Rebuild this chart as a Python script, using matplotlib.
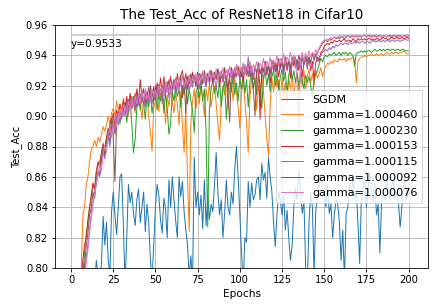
import numpy as np
import matplotlib
matplotlib.use("Agg")
import matplotlib.pyplot as plt

epochs = list(range(1, 201))

sgdm = [60.0, 65.0, 68.0, 70.5, 72.0, 73.5, 74.5, 75.5, 76.0, 76.8,
        77.5, 78.0, 78.4, 79.0, 80.5, 79.5, 78.8, 80.2, 83.4, 81.5,
        83.0, 80.6, 79.5, 83.7, 85.0, 83.5, 82.2, 84.0, 86.0, 86.2,
        82.8, 79.0, 82.0, 85.5, 84.3, 85.0, 83.6, 82.8, 84.5, 85.2,
        83.0, 84.0, 85.0, 82.4, 84.2, 83.0, 80.6, 79.2, 81.5, 84.0,
        85.5, 84.8, 83.2, 82.3, 84.6, 83.8, 82.0, 85.8, 84.0, 86.0,
        84.5, 83.1, 82.0, 86.0, 84.7, 85.7, 83.7, 82.5, 81.5, 79.5,
        80.8, 79.0, 87.3, 84.0, 85.0, 83.5, 84.8, 82.6, 85.8, 82.8,
        84.8, 83.2, 84.2, 83.7, 85.5, 87.6, 85.0, 83.5, 84.5, 82.0,
        83.6, 85.8, 84.0, 83.5, 85.0, 84.2, 86.5, 88.0, 86.0, 83.6,
        81.0, 79.0, 82.0, 81.7, 85.7, 84.0, 85.6, 84.5, 84.8, 85.8,
        86.0, 84.5, 86.9, 85.8, 86.3, 84.6, 87.3, 86.0, 85.0, 83.0,
        81.4, 83.5, 85.0, 84.5, 83.5, 84.8, 82.5, 83.8, 82.0, 80.5,
        81.5, 84.0, 85.3, 84.5, 86.5, 85.0, 83.6, 84.4, 80.1, 79.0,
        83.0, 85.0, 84.0, 79.5, 83.8, 84.6, 85.5, 86.2, 84.7, 85.0,
        84.0, 85.5, 83.6, 84.2, 82.0, 83.5, 84.5, 84.2, 83.0, 80.5,
        82.5, 79.3, 83.6, 84.0, 85.5, 84.8, 86.0, 84.6, 85.0, 83.0,
        80.3, 84.5, 85.2, 86.0, 84.0, 85.4, 86.3, 85.0, 84.4, 85.6,
        83.5, 84.2, 81.0, 84.3, 85.0, 84.5, 86.2, 85.0, 84.4, 85.4,
        85.8, 84.6, 85.0, 84.3, 82.7, 84.0, 85.5, 86.0, 84.5, 85.3]

g460 = [60.0, 68.0, 72.0, 76.0, 78.5, 79.5, 83.5, 84.0, 85.5, 86.0,
        87.0, 87.8, 88.0, 88.4, 88.0, 88.6, 88.3, 88.8, 89.3, 89.0,
        89.4, 90.0, 89.5, 90.2, 90.5, 90.0, 91.0, 90.4, 90.8, 90.2,
        91.2, 90.6, 91.0, 90.0, 91.3, 90.5, 91.0, 90.2, 91.5, 90.8,
        91.0, 89.8, 91.2, 90.6, 91.4, 90.0, 89.0, 87.7, 90.5, 91.0,
        91.5, 90.3, 91.6, 90.8, 91.2, 89.5, 91.4, 90.6, 91.8, 91.0,
        90.2, 91.5, 90.8, 89.4, 91.6, 89.4, 87.6, 90.5, 86.0, 82.4,
        89.5, 91.0, 91.8, 90.5, 91.6, 90.8, 92.0, 91.2, 90.0, 91.8,
        91.0, 92.2, 90.6, 91.5, 92.0, 90.8, 89.5, 88.4, 91.0, 92.0,
        91.4, 92.3, 90.5, 91.8, 92.2, 91.0, 92.5, 91.6, 90.6, 89.2,
        91.5, 92.4, 91.0, 89.5, 87.6, 91.2, 92.5, 91.8, 92.6, 90.4,
        92.0, 91.2, 92.8, 91.6, 90.0, 88.5, 87.4, 90.8, 92.5, 91.6,
        92.8, 91.9, 92.4, 91.0, 92.6, 91.4, 92.2, 90.8, 92.5, 91.8,
        92.7, 91.2, 92.4, 92.9, 91.5, 92.6, 92.0, 93.0, 91.8, 92.6,
        93.1, 92.2, 92.8, 92.0, 93.0, 92.5, 92.8, 93.2, 92.6, 93.0,
        93.3, 93.5, 93.4, 93.6, 93.5, 93.7, 93.6, 93.6, 93.8, 93.7,
        93.7, 93.8, 93.6, 93.8, 93.7, 93.8, 93.9, 93.7, 92.2, 93.6,
        93.8, 93.9, 93.9, 94.0, 93.9, 94.0, 94.0, 94.1, 94.0, 94.0,
        94.1, 94.0, 94.1, 94.1, 94.0, 94.1, 94.2, 94.1, 94.1, 94.2,
        94.1, 94.2, 94.2, 94.1, 94.2, 94.2, 94.3, 94.2, 94.1, 94.1]

g230 = [58.0, 66.0, 71.0, 74.0, 76.5, 78.0, 79.5, 81.0, 82.2, 83.0,
        84.0, 84.6, 85.5, 85.2, 86.3, 86.8, 87.0, 87.5, 88.0, 87.6,
        88.5, 88.9, 88.3, 89.3, 89.8, 88.8, 89.9, 90.3, 89.5, 90.5,
        90.0, 90.8, 89.6, 90.6, 91.0, 89.5, 87.6, 88.5, 90.6, 91.2,
        90.4, 91.3, 90.8, 89.8, 91.4, 90.6, 91.5, 90.2, 91.0, 91.6,
        90.4, 91.4, 91.0, 91.8, 90.2, 91.5, 90.5, 88.8, 89.5, 91.6,
        91.0, 92.0, 91.3, 91.8, 90.6, 92.0, 91.4, 92.2, 90.8, 91.8,
        91.0, 90.4, 88.9, 91.5, 92.0, 91.2, 92.2, 91.0, 91.8, 89.0,
        82.7, 90.5, 91.8, 92.4, 91.5, 92.0, 91.2, 92.5, 90.6, 91.8,
        92.3, 89.8, 91.5, 92.4, 91.6, 92.6, 91.4, 92.2, 91.0, 92.5,
        91.8, 92.8, 91.5, 92.4, 90.6, 92.3, 92.9, 91.8, 92.5, 91.4,
        92.8, 92.0, 90.5, 92.4, 93.0, 92.0, 92.8, 91.6, 92.6, 93.0,
        92.0, 92.8, 91.7, 92.6, 93.1, 92.3, 92.9, 91.5, 92.7, 93.2,
        92.4, 93.0, 92.2, 92.8, 92.0, 92.9, 92.4, 91.8, 92.7, 92.2,
        92.6, 92.0, 91.3, 92.4, 92.8, 93.0, 93.4, 93.8, 93.6, 93.9,
        94.0, 93.9, 94.1, 94.0, 94.1, 94.2, 94.0, 94.1, 94.2, 94.0,
        94.2, 94.1, 94.2, 94.0, 94.2, 94.1, 94.0, 93.3, 94.1, 94.2,
        94.2, 94.3, 94.2, 94.3, 94.2, 94.3, 94.3, 94.2, 94.3, 94.4,
        94.3, 94.3, 94.4, 94.3, 94.4, 94.3, 94.4, 94.4, 94.3, 94.4,
        94.4, 94.3, 94.4, 94.4, 94.3, 94.4, 94.4, 94.3, 94.3, 94.3]

g153 = [55.0, 64.0, 70.0, 74.0, 77.0, 78.8, 80.5, 81.5, 82.0, 83.2,
        84.0, 84.8, 85.6, 85.2, 86.4, 87.0, 86.6, 87.6, 88.2, 87.8,
        88.6, 89.2, 88.7, 89.6, 90.2, 89.4, 90.4, 90.0, 90.8, 90.3,
        91.0, 90.4, 91.3, 90.6, 91.5, 90.8, 91.2, 90.5, 91.8, 91.0,
        92.4, 91.2, 91.8, 90.8, 91.6, 91.0, 92.0, 91.3, 91.9, 91.1,
        92.2, 91.4, 92.5, 91.6, 92.6, 91.5, 92.2, 91.7, 92.6, 91.8,
        92.4, 91.6, 92.8, 92.0, 92.6, 93.0, 92.2, 92.8, 91.8, 92.7,
        92.0, 92.9, 92.3, 92.6, 91.8, 92.8, 92.1, 92.9, 92.4, 92.0,
        92.8, 92.3, 93.0, 92.2, 92.9, 92.4, 93.1, 92.0, 92.7, 92.3,
        93.0, 92.5, 91.8, 92.8, 93.2, 92.4, 93.0, 92.6, 93.3, 92.5,
        93.0, 92.2, 93.2, 92.7, 93.4, 92.6, 93.1, 92.4, 93.3, 92.8,
        93.5, 89.8, 93.2, 92.9, 93.6, 92.7, 93.4, 92.2, 93.2, 93.6,
        92.9, 93.5, 92.6, 93.3, 93.8, 92.9, 93.6, 93.0, 93.7, 92.5,
        93.4, 93.9, 93.2, 93.7, 93.0, 93.8, 92.6, 93.5, 94.0, 93.3,
        93.8, 93.0, 93.6, 92.4, 93.5, 93.9, 93.6, 94.2, 94.3, 94.6,
        94.7, 94.8, 94.7, 94.9, 94.8, 95.0, 94.9, 94.9, 95.0, 94.9,
        95.0, 95.1, 94.9, 95.0, 95.0, 94.9, 95.1, 95.0, 94.9, 95.1,
        95.0, 95.1, 95.0, 95.1, 95.0, 95.1, 95.1, 95.0, 95.1, 95.0,
        95.1, 95.1, 95.0, 95.1, 95.2, 95.1, 95.1, 95.0, 95.1, 95.2,
        95.1, 95.1, 95.2, 95.1, 95.1, 95.2, 95.1, 95.1, 95.2, 95.1]

g115 = [50.0, 60.0, 66.0, 70.0, 73.5, 76.0, 78.0, 79.8, 80.6, 81.5,
        82.5, 83.6, 84.2, 85.0, 85.5, 86.3, 86.0, 87.0, 87.6, 87.2,
        88.2, 88.6, 88.0, 89.0, 89.6, 88.9, 90.0, 89.4, 90.3, 89.8,
        90.6, 90.0, 90.9, 90.2, 91.0, 90.5, 91.3, 90.4, 91.4, 90.7,
        91.5, 90.9, 91.2, 90.6, 91.6, 91.0, 91.8, 90.8, 91.5, 91.2,
        92.0, 91.3, 91.8, 91.0, 92.1, 91.4, 92.3, 91.2, 92.0, 91.6,
        92.4, 91.5, 92.2, 91.8, 92.5, 91.7, 92.3, 92.0, 92.6, 91.6,
        92.4, 91.9, 92.7, 92.0, 92.5, 91.8, 92.8, 92.2, 92.6, 91.9,
        92.7, 92.1, 92.9, 92.3, 92.5, 91.8, 92.8, 92.4, 93.0, 92.2,
        92.8, 92.0, 93.1, 92.5, 92.9, 92.3, 93.2, 92.6, 93.0, 92.4,
        93.2, 92.6, 93.4, 92.8, 93.9, 92.7, 93.3, 92.5, 93.1, 92.9,
        93.4, 92.8, 93.0, 92.4, 93.5, 92.9, 93.2, 92.6, 93.6, 93.0,
        93.4, 92.8, 93.7, 93.1, 93.5, 92.7, 93.8, 93.2, 93.4, 93.0,
        93.7, 93.3, 93.9, 93.0, 93.6, 93.2, 94.0, 93.4, 93.8, 93.1,
        93.9, 93.5, 93.2, 93.7, 94.1, 93.6, 93.9, 94.0, 94.2, 94.3,
        94.4, 94.3, 94.5, 94.4, 94.6, 94.5, 94.7, 94.6, 94.7, 94.8,
        94.7, 94.8, 94.8, 94.7, 94.9, 94.8, 94.8, 94.9, 94.8, 94.9,
        94.8, 94.9, 94.9, 94.8, 94.9, 94.9, 94.8, 94.9, 95.0, 94.9,
        94.9, 95.0, 94.9, 94.9, 95.0, 94.9, 95.0, 95.0, 94.9, 95.0,
        95.0, 94.9, 95.0, 95.0, 94.9, 95.0, 95.0, 95.1, 95.0, 95.0]

g092 = [52.0, 62.0, 68.0, 72.0, 75.0, 77.0, 79.0, 80.2, 81.4, 82.3,
        83.5, 84.0, 85.0, 84.6, 85.8, 86.4, 86.2, 87.2, 87.8, 87.4,
        88.4, 88.8, 89.4, 89.9, 88.6, 85.7, 89.6, 90.2, 89.7, 90.5,
        90.1, 90.9, 90.3, 91.1, 90.6, 91.3, 90.8, 91.5, 90.6, 91.4,
        91.0, 91.7, 90.9, 91.5, 91.1, 91.9, 91.2, 91.7, 91.0, 92.0,
        91.4, 92.1, 91.5, 91.9, 91.3, 92.2, 91.6, 92.4, 91.7, 92.1,
        91.8, 92.5, 91.9, 92.3, 92.7, 91.2, 92.4, 90.2, 92.6, 92.1,
        92.8, 92.2, 92.5, 92.0, 92.9, 92.4, 92.7, 92.1, 93.0, 92.3,
        92.8, 92.4, 93.0, 92.2, 92.9, 92.5, 93.1, 92.4, 92.8, 92.6,
        93.2, 92.5, 91.5, 89.6, 92.8, 93.0, 92.5, 93.3, 92.7, 93.1,
        92.6, 93.4, 92.8, 93.2, 92.6, 93.5, 92.9, 91.8, 90.0, 92.9,
        93.5, 92.8, 93.3, 92.9, 93.6, 93.0, 93.4, 92.8, 93.7, 93.1,
        93.5, 93.0, 93.8, 93.2, 93.6, 93.1, 93.9, 93.3, 93.7, 93.2,
        93.9, 93.4, 93.8, 93.3, 94.0, 93.5, 93.8, 93.4, 94.1, 93.6,
        93.9, 93.5, 94.1, 93.7, 94.0, 94.2, 94.4, 94.6, 94.8, 94.9,
        95.0, 94.9, 95.1, 95.0, 95.1, 95.2, 95.1, 95.2, 95.1, 95.2,
        95.2, 95.1, 95.2, 95.3, 95.2, 95.2, 95.3, 95.2, 95.3, 95.2,
        95.3, 95.2, 95.3, 95.3, 95.2, 95.3, 95.3, 95.2, 95.3, 95.3,
        95.2, 95.3, 95.3, 95.2, 95.3, 95.3, 95.2, 95.3, 95.3, 95.2,
        95.3, 95.3, 95.2, 95.3, 95.3, 95.2, 95.3, 95.3, 95.2, 95.3]

g076 = [48.0, 58.0, 65.0, 69.5, 73.0, 75.5, 77.5, 79.2, 80.4, 81.2,
        82.4, 83.2, 84.3, 84.8, 85.6, 86.2, 86.8, 86.4, 87.5, 88.0,
        87.6, 88.7, 89.2, 88.6, 89.5, 90.0, 89.3, 90.2, 89.8, 90.6,
        90.0, 90.7, 90.2, 91.0, 90.4, 91.2, 90.6, 91.3, 90.8, 91.4,
        90.9, 91.6, 91.0, 91.8, 91.1, 91.5, 90.9, 91.8, 91.3, 91.7,
        91.2, 92.0, 91.5, 91.9, 91.3, 92.2, 91.6, 92.1, 91.5, 92.3,
        91.8, 92.4, 91.7, 92.5, 92.0, 92.6, 91.9, 92.4, 92.1, 92.7,
        92.0, 92.6, 92.2, 92.8, 92.1, 92.7, 92.3, 93.0, 92.2, 92.8,
        92.4, 93.0, 92.3, 92.9, 92.5, 93.1, 92.4, 92.9, 92.6, 93.2,
        92.5, 93.0, 92.7, 93.3, 92.6, 93.1, 92.8, 93.4, 92.7, 93.2,
        92.9, 93.5, 92.8, 93.3, 93.0, 93.6, 92.9, 93.4, 93.1, 93.6,
        93.0, 93.5, 93.2, 93.8, 93.1, 93.6, 93.3, 93.9, 93.2, 93.7,
        93.4, 94.0, 93.3, 93.8, 93.5, 94.1, 93.4, 93.9, 93.6, 94.2,
        93.5, 94.0, 93.7, 92.0, 89.2, 93.8, 94.2, 93.6, 94.1, 93.8,
        94.3, 93.9, 94.2, 94.0, 94.4, 94.1, 94.5, 94.7, 94.9, 95.0,
        95.0, 95.1, 95.0, 95.2, 95.1, 95.2, 95.2, 95.1, 95.3, 95.2,
        95.2, 95.3, 95.2, 95.3, 95.2, 95.3, 95.3, 95.2, 95.3, 95.2,
        95.3, 95.2, 95.3, 95.3, 95.2, 95.3, 95.2, 95.3, 95.3, 95.2,
        95.3, 95.2, 95.3, 95.2, 95.3, 95.3, 95.2, 95.3, 95.2, 95.3,
        95.2, 95.3, 95.3, 95.2, 95.3, 95.2, 95.3, 95.2, 95.3, 95.2]

labels = ["SGDM", "gamma=1.000460", "gamma=1.000230", "gamma=1.000153",
          "gamma=1.000115", "gamma=1.000092", "gamma=1.000076"]
ref_acc = 0.9533

series = [sgdm, g460, g230, g153, g115, g092, g076]

fig = plt.figure(figsize=(436 / 72, 308 / 72), dpi=72)
ax = fig.add_axes([55 / 436, 1 - 268 / 308, 373 / 436, 243 / 308])

ax.hlines(ref_acc, 0, epochs[-1], color="#c0c0c0", linewidth=1.5)
for s, lab in zip(series, labels):
    ax.plot(epochs, np.array(s) / 100.0, linewidth=1.0, label=lab)
ax.text(0, 0.9475, f"y={ref_acc}", va="center", ha="left", fontsize=10.5)

ax.set_xlim(-9.5, 211.5)
ax.set_ylim(0.80, 0.96)
ax.set_xticks([0, 25, 50, 75, 100, 125, 150, 175, 200])
ax.set_yticks([0.80, 0.82, 0.84, 0.86, 0.88, 0.90, 0.92, 0.94, 0.96])
ax.yaxis.set_major_formatter(matplotlib.ticker.FormatStrFormatter("%.2f"))
ax.tick_params(labelsize=10)
ax.grid(True)
ax.set_title("The Test_Acc of ResNet18 in Cifar10", fontsize=13.5)
ax.set_xlabel("Epochs", fontsize=10.5)
ax.set_ylabel("Test_Acc", fontsize=10)
ax.legend(loc="center right", fontsize=11.3)

fig.savefig("out.png", dpi=72)
